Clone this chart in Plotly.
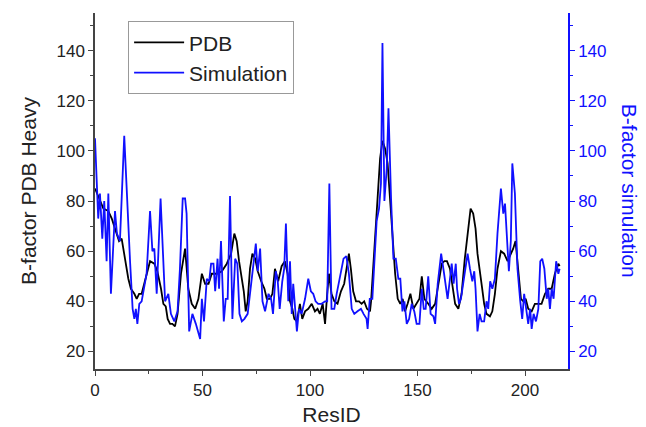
import plotly.graph_objects as go

# PDB heavy-atom B-factors (black) — residue index / value
pdb_res = [0, 2.3, 3.9, 6.2, 7.8, 9.3, 11.2, 12.4, 14, 15.5, 16.7, 18.3, 19.4, 20.5, 21.7,
           23.3, 25.6, 27.6, 29, 30.7, 31.8, 32.9, 33.8, 34.9, 36, 37.2, 38.4, 40, 41.9,
           43.4, 45, 46.6, 48.1, 49.7, 51.2, 52.8, 54.3, 56.6, 59, 61.3, 63.3, 64.8, 65.9,
           67, 68.3, 69.2, 70.1, 71, 72.1, 73.2, 74.5, 75.7, 77.3, 78.8, 79.9, 81.4, 82.5,
           83.7, 85.2, 86.8, 88.3, 89.6, 90.7, 91.8, 92.7, 93.9, 95.3, 96.4, 97.7, 99.2,
           100.8, 102.3, 103.5, 104.6, 105.9, 107, 108, 108.8, 110, 111.3, 112.8, 114.4,
           115.9, 117, 118.1, 119, 120.1, 121.4, 122.8, 124, 125.2, 126.5, 127.9, 128.4,
           129.5, 130.6, 131.5, 132.6, 133.7, 134.9, 136.1, 137.2, 138.3, 139.6, 140.8,
           142, 143.1, 144.2, 145.4, 146.7, 148.1, 149.6, 150.9, 152, 153.2, 155, 156.6,
           158.2, 159.7, 161.3, 162.5, 163.7, 165.1, 166.2, 167.5, 169, 170.5, 172, 173.6,
           174.7, 175.9, 177, 177.9, 179, 180.1, 181, 182.1, 183.7, 184.8, 186, 187.2,
           188.8, 190.3, 191.9, 193.4, 194.5, 195.6, 196.9, 198.1, 199.2, 200.3, 201.5,
           203.1, 204.6, 206.2, 207.7, 209.3, 210.8, 212.4, 213.9, 215.5, 216.1]
pdb_b = [85, 80, 77, 76, 73, 69, 64, 65, 56, 49, 45, 43, 41, 43, 43,
         48, 56, 55, 52, 45, 39, 38, 33, 31, 31, 30, 35, 51, 61,
         45, 39, 37, 41, 51, 47, 47, 51, 51, 52, 55, 59, 67, 64,
         56, 49, 44, 36, 40, 53, 59, 57, 52, 48, 45, 41, 41, 43,
         53, 48, 54, 56, 51, 40, 37, 33, 32, 39, 33, 36, 37,
         39, 36, 37, 35, 39, 31, 43, 51, 43, 40, 39, 44,
         47, 53, 59, 53, 44, 40, 40, 39, 40, 37, 36, 40,
         55, 73, 84, 97, 104, 101, 95, 80, 64, 51, 41,
         39, 41, 36, 39, 43, 37, 39, 41, 50, 41, 39, 37,
         39, 47, 55, 56, 56, 53, 47, 39, 37, 43, 57, 69,
         77, 75, 69, 59, 51, 45, 39, 35, 34, 36, 43, 53,
         60, 59, 56, 59, 61, 64, 51, 41, 40, 41, 37,
         36, 39, 39, 39, 43, 45, 45, 51, 55, 54]

# simulated B-factors (blue)
sim_res = [0, 1.5, 2.3, 3.4, 4.3, 5.4, 6.2, 7.4, 9.3, 10.2, 11.6, 13.6, 16.3, 17.5, 18.3,
           19, 19.7, 20.6, 21.7, 24, 25.6, 26.7, 27.6, 28.7, 30.5, 32.6, 34.1, 35.3, 36.9,
           38.4, 39.5, 40.8, 41.9, 42.6, 43.8, 45.3, 46.9, 48.9, 49.7, 50.7, 52, 53.1, 54,
           55.1, 55.9, 57, 57.7, 58.6, 59.9, 60.8, 61.7, 62.8, 63.9, 65.2, 66.2, 67.2, 68.3,
           69.5, 71, 72.1, 73.7, 74.8, 75.7, 76.8, 77.9, 79.1, 80.7, 81.9, 82.8, 84.1, 85,
           85.9, 87.1, 88, 88.8, 89.9, 90.7, 91.5, 92.2, 93, 93.9, 94.9, 96.1, 97.7, 99.2,
           100.4, 101.5, 102.6, 103.8, 105.4, 107, 108, 109, 110, 111.3, 112.4, 113.5,
           114.7, 115.6, 116.9, 118.1, 119.4, 120.6, 122.1, 123.7, 124.9, 126.3, 126.8,
           127.8, 129, 129.9, 131, 132.1, 133, 133.7, 134.6, 135.7, 136.5, 137.7, 138.8,
           139.9, 141.1, 142, 143, 143.9, 145, 146.1, 147.3, 148.5, 149.6, 150.9, 152,
           152.9, 153.8, 155, 156.1, 157.4, 158.2, 159.4, 161, 162.2, 163.1, 164, 165.1,
           165.9, 166.8, 167.8, 168.4, 169.3, 170.2, 171.7, 173.3, 174.4, 175.5, 176.4, 177,
           177.9, 178.9, 179.8, 181, 182.1, 182.9, 183.8, 184.8, 186, 187.2, 188.8, 189.9,
           190.7, 191.6, 192.5, 193.4, 194.1, 195.3, 196.5, 197.8, 198.7, 199.6, 200.7,
           201.5, 202.4, 203.1, 204, 205.1, 206.2, 207.1, 208, 209, 210.1, 210.8, 211.6,
           212.4, 213.3, 213.9, 214.5, 215.5, 216.1]
sim_b = [105, 73, 83, 65, 80, 56, 83, 43, 76, 67, 64, 106, 56, 37, 33,
         37, 31, 39, 40, 51, 76, 60, 61, 43, 81, 40, 43, 35, 32,
         36, 53, 81, 81, 75, 28, 35, 31, 25, 41, 32, 49, 48, 55,
         55, 44, 57, 45, 64, 32, 41, 41, 82, 33, 57, 55, 35, 32,
         33, 35, 43, 55, 63, 52, 61, 40, 36, 43, 41, 35, 52, 48,
         37, 48, 53, 71, 40, 56, 35, 47, 37, 28, 37, 35, 41, 49,
         44, 43, 40, 39, 39, 40, 40, 87, 37, 37, 43, 48,
         53, 57, 58, 51, 37, 35, 36, 37, 35, 33, 29,
         41, 41, 57, 72, 77, 87, 143, 80, 93, 117, 81, 57,
         57, 49, 49, 36, 40, 31, 33, 39, 36, 31, 31, 45,
         37, 37, 50, 35, 34, 31, 47, 59, 52, 47, 41, 49,
         55, 47, 55, 45, 39, 41, 49, 59, 53, 48, 52, 45,
         28, 35, 32, 32, 40, 37, 48, 45, 49, 67, 85, 75,
         79, 64, 52, 64, 95, 83, 53, 40, 33, 43, 35,
         31, 37, 29, 35, 32, 37, 56, 57, 53, 41, 45, 37,
         45, 41, 48, 56, 51, 53]

x_ticks = [0, 50, 100, 150, 200]
y_ticks = [20, 40, 60, 80, 100, 120, 140]
y_range = [13, 155]

FONT = "Arial, Liberation Sans, sans-serif"
BLUE = "#1010ff"
AXIS = "#444444"

fig = go.Figure()
fig.add_trace(go.Scatter(x=pdb_res, y=pdb_b, mode="lines", name="PDB",
                         line=dict(color="black", width=1.8)))
fig.add_trace(go.Scatter(x=sim_res, y=sim_b, mode="lines", name="Simulation",
                         line=dict(color=BLUE, width=1.8), yaxis="y2"))

fig.update_layout(
    width=646, height=427,
    margin=dict(l=95, r=78, t=13, b=58),
    paper_bgcolor="white", plot_bgcolor="white",
    font=dict(family=FONT, size=17, color="#222"),
    showlegend=True,
    legend=dict(x=0.07, y=0.977, xanchor="left", yanchor="top",
                bordercolor="#999", borderwidth=1, bgcolor="white",
                font=dict(size=21), tracegroupgap=0, itemwidth=50),
    xaxis=dict(range=[0, 220], tickvals=x_ticks, showgrid=False, zeroline=False,
               automargin=False,
               showline=True, linecolor=AXIS, linewidth=1.5, ticks="outside",
               ticklen=5, tickcolor=AXIS,
               minor=dict(ticks="outside", ticklen=3, dtick=25, tick0=0, tickcolor=AXIS),
               title=dict(text="ResID", font=dict(size=21), standoff=8)),
    yaxis=dict(range=y_range, tickvals=y_ticks, showgrid=False, zeroline=False,
               automargin=False,
               showline=True, linecolor=AXIS, linewidth=1.5, ticks="outside",
               ticklen=5, tickcolor=AXIS,
               minor=dict(ticks="outside", ticklen=3, dtick=10, tick0=0, tickcolor=AXIS),
               title=dict(text="B-factor PDB Heavy", font=dict(size=21), standoff=14)),
    yaxis2=dict(range=y_range, tickvals=y_ticks, overlaying="y", side="right",
                automargin=False,
                showgrid=False, zeroline=False, showline=True, linecolor=BLUE,
                linewidth=1.5, ticks="outside", ticklen=5, tickcolor=BLUE,
                tickfont=dict(color=BLUE),
                minor=dict(ticks="outside", ticklen=3, dtick=10, tick0=0, tickcolor=BLUE)),
    annotations=[dict(text="B-factor simulation", textangle=90, x=1.16, y=0.5,
                      xref="paper", yref="paper", showarrow=False,
                      font=dict(size=21, color=BLUE))],
)

# drop the page's default body margin so the 646x427 figure fills the window
fig.write_html("out.html", config={"displayModeBar": False},
               post_script="document.body.style.margin='0';")
